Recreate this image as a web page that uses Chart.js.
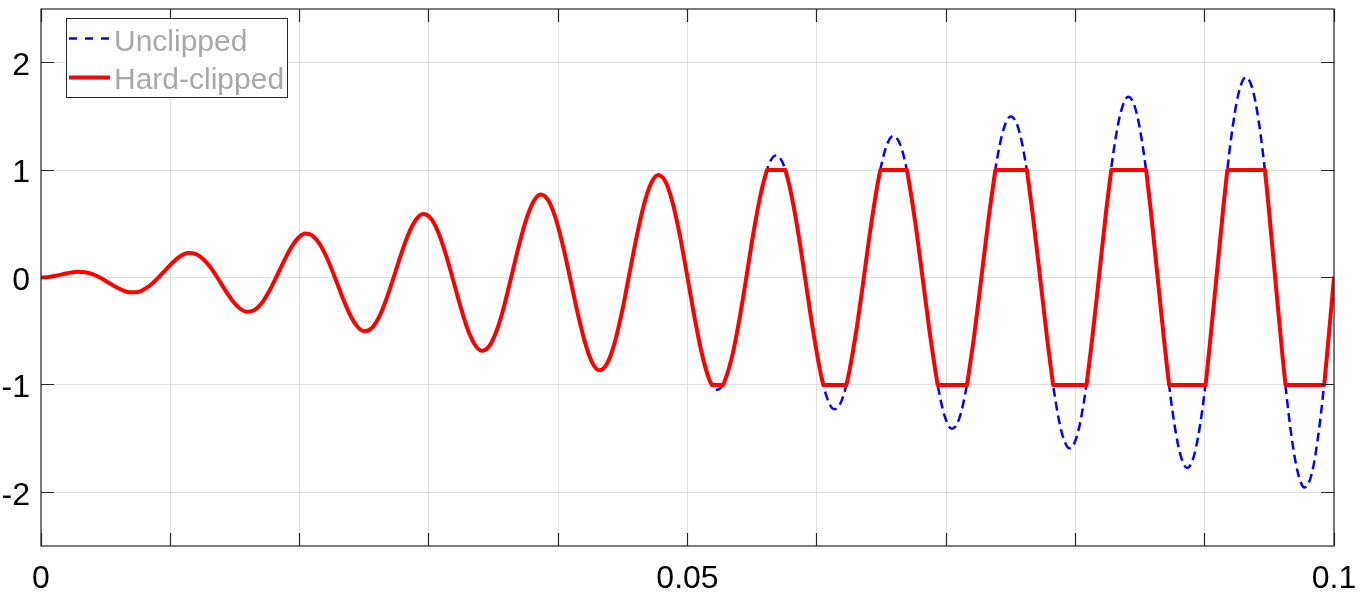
<!DOCTYPE html>
<html>
<head>
<meta charset="utf-8">
<title>Unclipped vs hard-clipped</title>
<script src="https://cdn.jsdelivr.net/npm/chart.js@4.4.1/dist/chart.umd.min.js"></script>
<style>
  html, body { margin: 0; padding: 0; background: #fff; }
  #wrap { width: 1366px; height: 614px; position: relative; }
</style>
</head>
<body>
<div id="wrap"><canvas id="chart"></canvas></div>
<script>
const FONT = "'Liberation Sans', Arial, Helvetica, sans-serif";

// time (s) and value of the unclipped signal (one row per cycle)
const tUnclipped = [
  0, 0.00057, 0.00114, 0.0017, 0.00227, 0.00284, 0.00341, 0.00398, 0.00455, 0.00511, 0.00568, 0.00625, 0.00682, 0.00739, 0.00795, 0.00852, 0.00909,
  0.00966, 0.01023, 0.0108, 0.01136, 0.01193, 0.0125, 0.01307, 0.01364, 0.0142, 0.01477, 0.01534, 0.01591, 0.01648, 0.01705, 0.01761, 0.01818,
  0.01875, 0.01932, 0.01989, 0.02045, 0.02102, 0.02159, 0.02216, 0.02273, 0.0233, 0.02386, 0.02443, 0.025, 0.02557, 0.02614, 0.0267, 0.02727,
  0.02784, 0.02841, 0.02898, 0.02955, 0.03011, 0.03068, 0.03125, 0.03182, 0.03239, 0.03295, 0.03352, 0.03409, 0.03466, 0.03523, 0.0358, 0.03636,
  0.03693, 0.0375, 0.03807, 0.03864, 0.0392, 0.03977, 0.04034, 0.04091, 0.04148, 0.04205, 0.04261, 0.04318, 0.04375, 0.04432, 0.04489, 0.04545,
  0.04602, 0.04659, 0.04716, 0.04773, 0.0483, 0.04886, 0.04943, 0.05, 0.05057, 0.05114, 0.0517, 0.05227, 0.05284, 0.05341, 0.05398, 0.05455,
  0.05511, 0.05568, 0.05625, 0.05682, 0.05739, 0.05795, 0.05852, 0.05909, 0.05966, 0.06023, 0.0608, 0.06136, 0.06193, 0.0625, 0.06307, 0.06364,
  0.0642, 0.06477, 0.06534, 0.06591, 0.06648, 0.06705, 0.06761, 0.06818, 0.06875, 0.06932, 0.06989, 0.07045, 0.07102, 0.07159, 0.07216, 0.07273,
  0.0733, 0.07386, 0.07443, 0.075, 0.07557, 0.07614, 0.0767, 0.07727, 0.07784, 0.07841, 0.07898, 0.07955, 0.08011, 0.08068, 0.08125, 0.08182,
  0.08239, 0.08295, 0.08352, 0.08409, 0.08466, 0.08523, 0.0858, 0.08636, 0.08693, 0.0875, 0.08807, 0.08864, 0.0892, 0.08977, 0.09034, 0.09091,
  0.09148, 0.09205, 0.09261, 0.09318, 0.09375, 0.09432, 0.09489, 0.09545, 0.09602, 0.09659, 0.09716, 0.09773, 0.0983, 0.09886, 0.09943, 0.1
];
const yUnclipped = [
  0, 0.00435, 0.01607, 0.0315, 0.04545, 0.05249, 0.04821, 0.03044, 0, -0.03914, -0.08035, -0.11549, -0.13636, -0.13648, -0.11249, -0.06523, 0,
  0.07393, 0.14464, 0.19947, 0.22727, 0.22047, 0.17678, 0.10002, 0, -0.10872, -0.20892, -0.28346, -0.31818, -0.30446, -0.24106, -0.13481, 0,
  0.14351, 0.2732, 0.36745, 0.40909, 0.38845, 0.30534, 0.1696, 0, -0.17829, -0.33748, -0.45144, -0.5, -0.47244, -0.36963, -0.20439, 0,
  0.21308, 0.40177, 0.53543, 0.59091, 0.55643, 0.43391, 0.23918, 0, -0.24787, -0.46605, -0.61942, -0.68182, -0.64042, -0.49819, -0.27396, 0,
  0.28266, 0.53033, 0.7034, 0.77273, 0.7244, 0.56247, 0.30875, 0, -0.31745, -0.59462, -0.78739, -0.86364, -0.8084, -0.62676, -0.34354, 0,
  0.35224, 0.6589, 0.87139, 0.95455, 0.89239, 0.69104, 0.37833, 0, -0.38703, -0.72318, -0.95537, -1.04545, -0.97638, -0.75532, -0.41312, 0,
  0.42182, 0.78747, 1.03937, 1.13636, 1.06036, 0.81961, 0.44791, 0, -0.45661, -0.85175, -1.12335, -1.22727, -1.14435, -0.88389, -0.4827, 0,
  0.4914, 0.91603, 1.20734, 1.31818, 1.22834, 0.94817, 0.51749, 0, -0.52619, -0.98031, -1.29133, -1.40909, -1.31233, -1.01246, -0.55228, 0,
  0.56097, 1.0446, 1.37532, 1.5, 1.39631, 1.07674, 0.58706, 0, -0.59576, -1.10888, -1.4593, -1.59091, -1.4803, -1.14102, -0.62186, 0,
  0.63055, 1.17317, 1.54329, 1.68182, 1.56429, 1.20531, 0.65664, 0, -0.66534, -1.23744, -1.62728, -1.77273, -1.64828, -1.26959, -0.69143, 0,
  0.70013, 1.30173, 1.71128, 1.86364, 1.73228, 1.33387, 0.72622, 0, -0.73492, -1.36601, -1.79526, -1.95455, -1.81626, -1.39815, -0.76101, 0
];

// hard-clipped signal: a null breaks the curve so every flat top is a straight piece
const tClipped = [
  0, 0.00057, 0.00114, 0.0017, 0.00227, 0.00284, 0.00341, 0.00398, 0.00455, 0.00511, 0.00568, 0.00625, 0.00682, 0.00739, 0.00795, 0.00852, 0.00909,
  0.00966, 0.01023, 0.0108, 0.01136, 0.01193, 0.0125, 0.01307, 0.01364, 0.0142, 0.01477, 0.01534, 0.01591, 0.01648, 0.01705, 0.01761, 0.01818,
  0.01875, 0.01932, 0.01989, 0.02045, 0.02102, 0.02159, 0.02216, 0.02273, 0.0233, 0.02386, 0.02443, 0.025, 0.02557, 0.02614, 0.0267, 0.02727,
  0.02784, 0.02841, 0.02898, 0.02955, 0.03011, 0.03068, 0.03125, 0.03182, 0.03239, 0.03295, 0.03352, 0.03409, 0.03466, 0.03523, 0.0358, 0.03636,
  0.03693, 0.0375, 0.03807, 0.03864, 0.0392, 0.03977, 0.04034, 0.04091, 0.04148, 0.04205, 0.04261, 0.04318, 0.04375, 0.04432, 0.04489, 0.04545,
  0.04602, 0.04659, 0.04716, 0.04773, 0.0483, 0.04886, 0.04943, 0.05, 0.05057, 0.05114, 0.0517,
  0.05189, 0.05189, 0.05189, 0.05274, 0.05274, 0.05274,
  0.05284, 0.05341, 0.05398, 0.05455, 0.05511, 0.05568,
  0.05614, 0.05614, 0.05614, 0.05757, 0.05757, 0.05757,
  0.05795, 0.05852, 0.05909, 0.05966, 0.06023,
  0.0605, 0.0605, 0.0605, 0.06229, 0.06229, 0.06229,
  0.0625, 0.06307, 0.06364, 0.0642, 0.06477,
  0.06491, 0.06491, 0.06491, 0.06697, 0.06697, 0.06697,
  0.06705, 0.06761, 0.06818, 0.06875, 0.06932,
  0.06935, 0.06935, 0.06935, 0.07162, 0.07162, 0.07162,
  0.07216, 0.07273, 0.0733,
  0.07381, 0.07381, 0.07381, 0.07625, 0.07625, 0.07625,
  0.0767, 0.07727, 0.07784,
  0.07828, 0.07828, 0.07828, 0.08086, 0.08086, 0.08086,
  0.08125, 0.08182, 0.08239,
  0.08277, 0.08277, 0.08277, 0.08547, 0.08547, 0.08547,
  0.0858, 0.08636, 0.08693,
  0.08725, 0.08725, 0.08725, 0.09007, 0.09007, 0.09007,
  0.09034, 0.09091, 0.09148,
  0.09175, 0.09175, 0.09175, 0.09466, 0.09466, 0.09466,
  0.09489, 0.09545, 0.09602,
  0.09625, 0.09625, 0.09625, 0.09924, 0.09924, 0.09924,
  0.09943, 0.1
];
const yClipped = [
  0, 0.00435, 0.01607, 0.0315, 0.04545, 0.05249, 0.04821, 0.03044, 0, -0.03914, -0.08035, -0.11549, -0.13636, -0.13648, -0.11249, -0.06523, 0,
  0.07393, 0.14464, 0.19947, 0.22727, 0.22047, 0.17678, 0.10002, 0, -0.10872, -0.20892, -0.28346, -0.31818, -0.30446, -0.24106, -0.13481, 0,
  0.14351, 0.2732, 0.36745, 0.40909, 0.38845, 0.30534, 0.1696, 0, -0.17829, -0.33748, -0.45144, -0.5, -0.47244, -0.36963, -0.20439, 0,
  0.21308, 0.40177, 0.53543, 0.59091, 0.55643, 0.43391, 0.23918, 0, -0.24787, -0.46605, -0.61942, -0.68182, -0.64042, -0.49819, -0.27396, 0,
  0.28266, 0.53033, 0.7034, 0.77273, 0.7244, 0.56247, 0.30875, 0, -0.31745, -0.59462, -0.78739, -0.86364, -0.8084, -0.62676, -0.34354, 0,
  0.35224, 0.6589, 0.87139, 0.95455, 0.89239, 0.69104, 0.37833, 0, -0.38703, -0.72318, -0.95537,
  -1, null, -1, -1, null, -1,
  -0.97638, -0.75532, -0.41312, 0, 0.42182, 0.78747,
  1, null, 1, 1, null, 1,
  0.81961, 0.44791, 0, -0.45661, -0.85175,
  -1, null, -1, -1, null, -1,
  -0.88389, -0.4827, 0, 0.4914, 0.91603,
  1, null, 1, 1, null, 1,
  0.94817, 0.51749, 0, -0.52619, -0.98031,
  -1, null, -1, -1, null, -1,
  -0.55228, 0, 0.56097,
  1, null, 1, 1, null, 1,
  0.58706, 0, -0.59576,
  -1, null, -1, -1, null, -1,
  -0.62186, 0, 0.63055,
  1, null, 1, 1, null, 1,
  0.65664, 0, -0.66534,
  -1, null, -1, -1, null, -1,
  -0.69143, 0, 0.70013,
  1, null, 1, 1, null, 1,
  0.72622, 0, -0.73492,
  -1, null, -1, -1, null, -1,
  -0.76101, 0
];

const seriesNames = ['Unclipped', 'Hard-clipped'];
const xGridValues = [0, 0.01, 0.02, 0.03, 0.04, 0.05, 0.06, 0.07, 0.08, 0.09, 0.1];
const xTickValues = [0, 0.05, 0.1];
const xTickLabels = ['0', '0.05', '0.1'];
const yTickValues = [-2, -1, 0, 1, 2];
const yTickLabels = ['-2', '-1', '0', '1', '2'];

const toPoints = (ts, ys) => ts.map((t, i) => ({ x: t, y: ys[i] }));

function labelFor(values, labels, v) {
  const i = values.findIndex((u) => Math.abs(u - v) < 1e-9);
  return i < 0 ? '' : labels[i];
}

const align = (p) => Math.round(p - 0.5) + 0.5;

// box round the axes, inward ticks on all four sides, legend in the corner
const frame = {
  id: 'frame',
  afterDraw(chart) {
    const { ctx, chartArea: a, scales } = chart;
    ctx.save();
    ctx.strokeStyle = '#262626';
    ctx.lineWidth = 1.2;
    ctx.beginPath();
    xGridValues.forEach((v) => {
      const px = align(scales.x.getPixelForValue(v));
      ctx.moveTo(px, a.bottom); ctx.lineTo(px, a.bottom - 13);
      ctx.moveTo(px, a.top); ctx.lineTo(px, a.top + 13);
    });
    yTickValues.forEach((v) => {
      const py = align(scales.y.getPixelForValue(v));
      ctx.moveTo(a.left, py); ctx.lineTo(a.left + 13, py);
      ctx.moveTo(a.right, py); ctx.lineTo(a.right - 13, py);
    });
    ctx.stroke();
    ctx.strokeRect(a.left, a.top, a.right - a.left, a.bottom - a.top);

    // legend
    ctx.fillStyle = '#ffffff';
    ctx.fillRect(66.5, 18.5, 221, 79);
    ctx.lineWidth = 1;
    ctx.strokeRect(66.5, 18.5, 221, 79);

    ctx.beginPath();
    ctx.setLineDash([8, 8]);
    ctx.strokeStyle = '#0000ff';
    ctx.lineWidth = 2.5;
    ctx.moveTo(69, 38.5); ctx.lineTo(110, 38.5);
    ctx.stroke();

    ctx.beginPath();
    ctx.setLineDash([]);
    ctx.strokeStyle = '#ff0000';
    ctx.lineWidth = 4;
    ctx.moveTo(69, 77.5); ctx.lineTo(110, 77.5);
    ctx.stroke();

    ctx.font = '30px ' + FONT;
    ctx.fillStyle = '#a8a8a8';
    ctx.textBaseline = 'alphabetic';
    ctx.textAlign = 'left';
    ctx.fillText(seriesNames[0], 114, 51);
    ctx.fillText(seriesNames[1], 114, 88.5);
    ctx.restore();
  }
};

const tickFont = { family: FONT, size: 32 };

new Chart(document.getElementById('chart'), {
  type: 'line',
  data: {
    datasets: [
      {
        label: seriesNames[0],
        data: toPoints(tUnclipped, yUnclipped),
        borderColor: '#0000ff',
        borderWidth: 2.5,
        borderDash: [9, 5],
        order: 2,
      },
      {
        label: seriesNames[1],
        data: toPoints(tClipped, yClipped),
        borderColor: '#ff0000',
        borderWidth: 4,
        borderCapStyle: 'round',
        borderJoinStyle: 'round',
        order: 1,
      },
    ],
  },
  options: {
    responsive: true,
    maintainAspectRatio: false,
    animation: false,
    events: [],
    layout: { padding: { left: 0, right: 32, top: 9, bottom: 0 } },
    elements: {
      point: { radius: 0, hoverRadius: 0 },
      line: { cubicInterpolationMode: 'monotone', fill: false },
    },
    plugins: {
      legend: { display: false },
      tooltip: { enabled: false },
    },
    scales: {
      x: {
        type: 'linear',
        min: 0,
        max: 0.1,
        afterBuildTicks: (axis) => { axis.ticks = xGridValues.map((v) => ({ value: v })); },
        afterFit: (axis) => { axis.height = 68; axis.paddingLeft = 0; axis.paddingRight = 0; },
        grid: { color: '#dfdfdf', lineWidth: 1, drawTicks: false },
        border: { display: false },
        ticks: {
          autoSkip: false,
          maxRotation: 0,
          padding: 14,
          color: '#000000',
          font: tickFont,
          callback: (v) => labelFor(xTickValues, xTickLabels, v),
        },
      },
      y: {
        type: 'linear',
        min: -2.5,
        max: 2.5,
        afterBuildTicks: (axis) => { axis.ticks = yTickValues.map((v) => ({ value: v })); },
        afterFit: (axis) => { axis.width = 41; axis.paddingTop = 0; axis.paddingBottom = 0; },
        grid: { color: '#dfdfdf', lineWidth: 1, drawTicks: false },
        border: { display: false },
        ticks: {
          autoSkip: false,
          padding: 11,
          labelOffset: 3.5,
          color: '#000000',
          font: tickFont,
          callback: (v) => labelFor(yTickValues, yTickLabels, v),
        },
      },
    },
  },
  plugins: [frame],
});
</script>
</body>
</html>
